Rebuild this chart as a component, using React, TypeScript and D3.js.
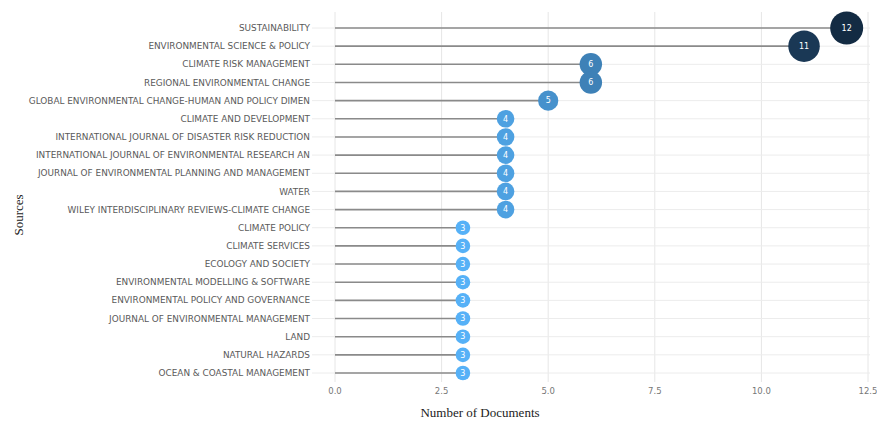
import React from "react";
import * as d3 from "d3";

const sources = [
  "SUSTAINABILITY",
  "ENVIRONMENTAL SCIENCE & POLICY",
  "CLIMATE RISK MANAGEMENT",
  "REGIONAL ENVIRONMENTAL CHANGE",
  "GLOBAL ENVIRONMENTAL CHANGE-HUMAN AND POLICY DIMEN",
  "CLIMATE AND DEVELOPMENT",
  "INTERNATIONAL JOURNAL OF DISASTER RISK REDUCTION",
  "INTERNATIONAL JOURNAL OF ENVIRONMENTAL RESEARCH AN",
  "JOURNAL OF ENVIRONMENTAL PLANNING AND MANAGEMENT",
  "WATER",
  "WILEY INTERDISCIPLINARY REVIEWS-CLIMATE CHANGE",
  "CLIMATE POLICY",
  "CLIMATE SERVICES",
  "ECOLOGY AND SOCIETY",
  "ENVIRONMENTAL MODELLING & SOFTWARE",
  "ENVIRONMENTAL POLICY AND GOVERNANCE",
  "JOURNAL OF ENVIRONMENTAL MANAGEMENT",
  "LAND",
  "NATURAL HAZARDS",
  "OCEAN & COASTAL MANAGEMENT",
];
const documents = [12, 11, 6, 6, 5, 4, 4, 4, 4, 4, 4, 3, 3, 3, 3, 3, 3, 3, 3, 3];
const xTicks = [0, 2.5, 5, 7.5, 10, 12.5];

export default function App() {
  const W = 877, H = 421;
  const x = d3.scaleLinear().domain([0, 12.5]).range([335, 868]);
  const y = d3.scalePoint<string>().domain(sources).range([28, 373]);
  const r = d3.scaleRadial().domain([3, 12]).range([7.3, 16.5]);
  const color = d3.scaleLinear<string>().domain([3, 12]).range(["#56B1F7", "#132B43"]).interpolate(d3.interpolateLab);
  const panelLeft = 312, panelRight = 870, panelTop = 12, panelBottom = 382;
  const labelFont = "'DejaVu Sans', Verdana, sans-serif";
  return (
    <svg width={W} height={H} style={{ position: "absolute", left: 0, top: 0, background: "#fff" }}>
      {xTicks.map((t) => (
        <line key={"vg" + t} x1={x(t)} x2={x(t)} y1={panelTop} y2={panelBottom} stroke="#e6e6e6" strokeWidth={1} />
      ))}
      {sources.map((s) => (
        <line key={"hg" + s} x1={panelLeft} x2={panelRight} y1={y(s)} y2={y(s)} stroke="#ececec" strokeWidth={1} />
      ))}
      {sources.map((s, i) => (
        <line key={"st" + s} x1={x(0)} x2={x(documents[i])} y1={y(s)} y2={y(s)} stroke="#8a8a8a" strokeWidth={1.6} />
      ))}
      {sources.map((s, i) => (
        <g key={"pt" + s} transform={`translate(${x(documents[i])},${y(s)})`}>
          <circle r={r(documents[i])} fill={color(documents[i])} />
          <text textAnchor="middle" dy="0.35em" fill="#fff" fontSize={8} fontFamily={labelFont}>
            {documents[i]}
          </text>
        </g>
      ))}
      {sources.map((s) => (
        <text key={"lb" + s} x={310} y={y(s)} dy="0.35em" textAnchor="end" fontSize={8.9} fill="#5a5a5a" fontFamily={labelFont}>
          {s}
        </text>
      ))}
      {xTicks.map((t) => (
        <text key={"xt" + t} x={x(t)} y={391} dy="0.35em" textAnchor="middle" fontSize={8.5} fill="#777" fontFamily={labelFont}>
          {t.toFixed(1)}
        </text>
      ))}
      <text x={480} y={412} dy="0.35em" textAnchor="middle" fontSize={13} fill="#222" fontFamily="'Liberation Serif', 'Times New Roman', serif">
        Number of Documents
      </text>
      <text transform={`translate(18,215) rotate(-90)`} dy="0.35em" textAnchor="middle" fontSize={13} fill="#222" fontFamily="'Liberation Serif', 'Times New Roman', serif">
        Sources
      </text>
    </svg>
  );
}
